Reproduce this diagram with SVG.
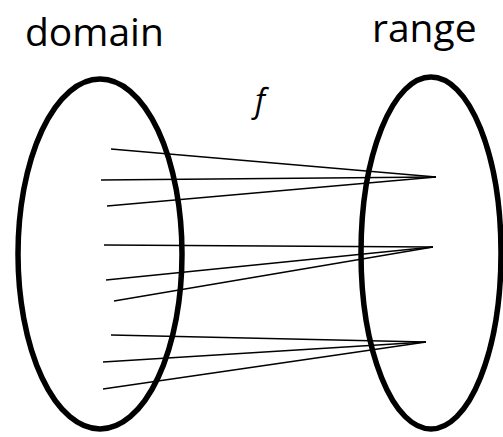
<svg xmlns="http://www.w3.org/2000/svg" width="503" height="437" viewBox="0 0 503 437">
<style>
.set{fill:none;stroke:#000;stroke-width:5.5}
.map line{stroke:#000;stroke-width:1.3}
.lbl{font-family:"Open Sans","Liberation Sans",sans-serif;font-size:39px;fill:#000}
.fn{font-family:"Open Sans","Liberation Sans",sans-serif;font-size:32px;font-style:italic;fill:#000}
</style>
<rect width="503" height="437" fill="#fff"/>
<g id="domain">
<ellipse class="set" cx="100" cy="254" rx="82" ry="175"/>
<text class="lbl" x="25" y="46">domain</text>
</g>
<g id="range">
<ellipse class="set" cx="431" cy="253" rx="70" ry="176"/>
<text class="lbl" x="372" y="42">range</text>
</g>
<g id="label-f">
<text class="fn" x="255" y="112">f</text>
</g>
<g id="connectors" class="map">
<line x1="111" y1="149" x2="436" y2="177"/>
<line x1="101" y1="180" x2="436" y2="177"/>
<line x1="107" y1="206" x2="436" y2="177"/>
<line x1="104" y1="245" x2="433" y2="247"/>
<line x1="106" y1="280" x2="433" y2="247"/>
<line x1="114" y1="301" x2="433" y2="247"/>
<line x1="111" y1="335" x2="426" y2="342"/>
<line x1="103" y1="362" x2="426" y2="342"/>
<line x1="103" y1="389" x2="426" y2="342"/>
</g>
</svg>
